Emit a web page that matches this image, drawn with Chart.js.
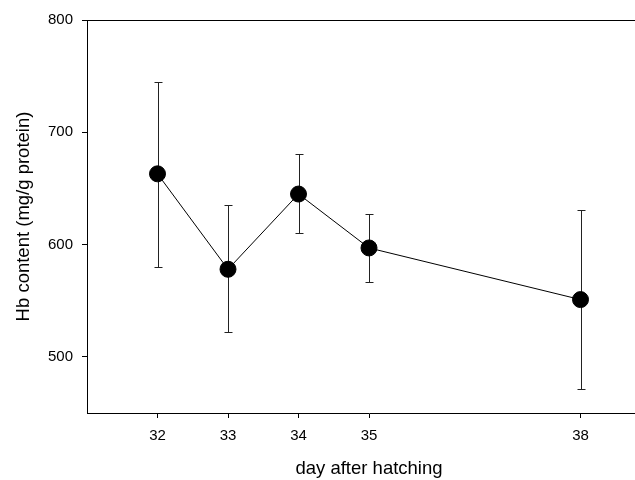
<!DOCTYPE html>
<html>
<head>
<meta charset="utf-8">
<script src="https://cdn.jsdelivr.net/npm/chart.js@4.4.0/dist/chart.umd.min.js"></script>
<style>
    html, body { margin: 0; padding: 0; background: #fff; overflow: hidden; }
</style>
</head>
<body>
<!-- canvas wider than the window: the original figure is cut off on the right -->
<canvas id="hbChart" width="660" height="480"></canvas>
<script>
// values
const days = [32, 33, 34, 35, 38];
const hbMean = [663, 578, 645, 597, 551];
const hbUpper = [745, 635, 681, 627, 631];
const hbLower = [580, 522, 610, 567, 471];
const xTicks = [32, 33, 34, 35, 38];
const yTicks = [500, 600, 700, 800];

const fontFamily = '"Liberation Sans", Arial, sans-serif';

// whiskers drawn behind the markers
const errorBars = {
    id: 'errorBars',
    beforeDatasetsDraw(chart) {
        const { ctx, scales: { x, y } } = chart;
        ctx.save();
        ctx.strokeStyle = '#222';
        ctx.lineWidth = 1;
        days.forEach((d, i) => {
            const px = Math.round(x.getPixelForValue(d)) + 0.5;
            const top = Math.round(y.getPixelForValue(hbUpper[i])) + 0.5;
            const bot = Math.round(y.getPixelForValue(hbLower[i])) + 0.5;
            ctx.beginPath();
            ctx.moveTo(px, top);
            ctx.lineTo(px, bot);
            ctx.moveTo(px - 4, top);
            ctx.lineTo(px + 4, top);
            ctx.moveTo(px - 4, bot);
            ctx.lineTo(px + 4, bot);
            ctx.stroke();
        });
        ctx.restore();
    }
};

// top frame line
const topFrame = {
    id: 'topFrame',
    afterDraw(chart) {
        const { ctx, chartArea } = chart;
        ctx.save();
        ctx.strokeStyle = '#000';
        ctx.lineWidth = 1;
        ctx.beginPath();
        ctx.moveTo(chartArea.left, Math.round(chartArea.top) + 0.5);
        ctx.lineTo(chartArea.right, Math.round(chartArea.top) + 0.5);
        ctx.stroke();
        ctx.restore();
    }
};

const ctx = document.getElementById('hbChart').getContext('2d');
new Chart(ctx, {
    type: 'line',
    data: {
        datasets: [{
            data: days.map((d, i) => ({ x: d, y: hbMean[i] })),
            borderColor: '#000',
            borderWidth: 1,
            pointRadius: 8,
            pointBorderWidth: 1,
            pointBackgroundColor: '#000',
            pointBorderColor: '#000',
            tension: 0
        }]
    },
    options: {
        responsive: false,
        animation: false,
        layout: {
            padding: { top: 20, right: 0, bottom: 0, left: 0 }
        },
        plugins: {
            legend: { display: false },
            tooltip: { enabled: false }
        },
        scales: {
            x: {
                type: 'linear',
                min: 31,
                max: 39,
                afterBuildTicks: (scale) => {
                    scale.ticks = xTicks.map(v => ({ value: v }));
                },
                afterFit: (scale) => { scale.height = 67; },
                grid: { drawOnChartArea: false, drawTicks: true, tickLength: 5, color: '#000' },
                border: { color: '#000', width: 1 },
                ticks: {
                    color: '#000',
                    padding: 9,
                    maxRotation: 0,
                    font: { family: fontFamily, size: 15 }
                },
                title: {
                    display: true,
                    text: 'day after hatching',
                    color: '#000',
                    padding: { top: 0, bottom: 0 },
                    font: { family: fontFamily, size: 18.5 }
                }
            },
            y: {
                min: 450,
                max: 800,
                afterBuildTicks: (scale) => {
                    scale.ticks = yTicks.map(v => ({ value: v }));
                },
                afterFit: (scale) => { scale.width = 87; },
                grid: { drawOnChartArea: false, drawTicks: true, tickLength: 5, color: '#000' },
                border: { color: '#000', width: 1 },
                ticks: {
                    color: '#000',
                    padding: 9,
                    font: { family: fontFamily, size: 15 }
                },
                title: {
                    display: true,
                    text: 'Hb content (mg/g protein)',
                    color: '#000',
                    padding: { top: 13, bottom: 0 },
                    font: { family: fontFamily, size: 18.5 }
                }
            }
        }
    },
    plugins: [errorBars, topFrame]
});
</script>
</body>
</html>
